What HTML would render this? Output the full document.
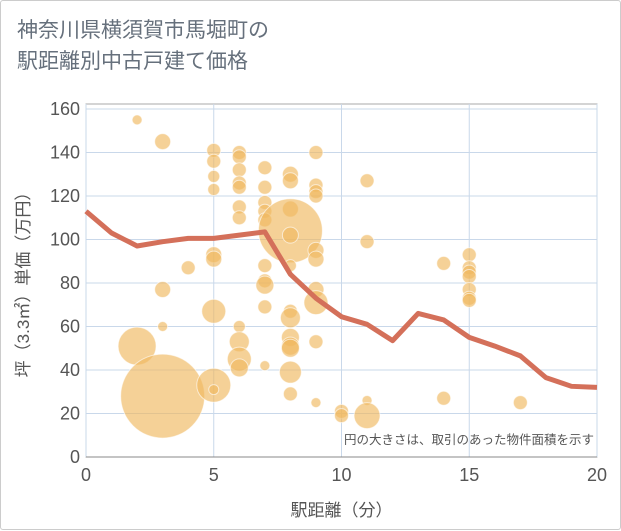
<!DOCTYPE html>
<html><head><meta charset="utf-8"><style>
body{margin:0;background:#fff;font-family:"Liberation Sans","Noto Sans CJK JP",sans-serif;}
#wrap{position:relative;width:619px;height:528px;border:1px solid #ccc;border-radius:3px;background:#fff;}
#title{position:absolute;left:16px;top:14px;font-size:21px;line-height:31px;color:#66707c;}
svg{position:absolute;left:0;top:0;}
</style></head><body>
<div id="wrap">
<div id="title">神奈川県横須賀市馬堀町の<br>駅距離別中古戸建て価格</div>
<svg id="chart" width="621" height="530"></svg>
</div>
<script>
const xTicks=[0,5,10,15,20];
const yTicks=[0,20,40,60,80,100,120,140,160];
const bubX=[2,3,5,5,5,5,6,6,6,6,6,6,6,7,7,7,7,7,8,8,8,8,8,9,9,9,9,11,11,9,9,8,5,5,4,3,7,7,7,9,9,8,8,7,2,3,5,6,6,6,6,7,8,8,8,8,8,9,9,3,5,5,10,10,11,11,14,14,15,15,15,15,15,15,15,17];
const bubY=[155,145,141,136,129,123,140,138,132,126,124,115,110,133,124,117,113,109,130,127,114,104,102,140,125,122,120,127,99,95,91,88,93,91,87,77,88,81,79,77,71,67,64,69,51,60,67,60,53,45,41,42,55,51,50,39,29,53,25,28,33,31,21,19,26,19,89,27,93,87,85,83,77,73,72,25];
const bubSize=[5,8,7,7,6,6,7,7,7,7,7,7,7,7,7,7,7,7,8,8,8,32,8,7,7,7,7,7,7,8,8,6,8,8,7,8,7,7,9,8,12,7,10,7,19,5,12,6,10,12,9,5,9,9,9,11,7,7,5,42,17,5,7,7,5,13,7,7,7,7,7,7,7,7,7,7];
const lineX=[0,1,2,3,4,5,6,7,8,9,10,11,12,13,14,15,16,17,18,19,20];
const lineY=[113,103,97,99,100.5,100.5,102,103.5,84,73,64.5,61,53.5,66,63,55,51,46.5,36.5,32.5,32];
const L=85,R=596,T=103,B=456;
const sx=v=>L+v*(R-L)/20, sy=v=>B-v*(B-108)/160;
const svg=document.getElementById('chart');const NS='http://www.w3.org/2000/svg';
function mk(t,a){const e=document.createElementNS(NS,t);for(const k in a)e.setAttribute(k,a[k]);svg.appendChild(e);return e;}
let e=mk('rect',{x:L,y:T,width:R-L,height:B-T,fill:'#fff',stroke:'#aaa'});


yTicks.forEach(v=>{let g=mk('line',{x1:L,x2:R,y1:sy(v),y2:sy(v),stroke:'#c9d8ea','stroke-width':1});


let t=mk('text',{x:L-6,y:sy(v)+6,'text-anchor':'end','font-size':18,fill:'#555'});t.textContent=v;

});
xTicks.forEach(v=>{let g=mk('line',{x1:sx(v),x2:sx(v),y1:T,y2:B,stroke:'#c9d8ea','stroke-width':1});


let t=mk('text',{x:sx(v),y:B+24,'text-anchor':'middle','font-size':18,fill:'#555'});t.textContent=v;

});
mk('line',{x1:L,x2:R,y1:B,y2:B,stroke:'#888'});
bubX.forEach((v,i)=>{let c=mk('circle',{cx:sx(v),cy:sy(bubY[i]),r:bubSize[i],fill:'rgba(240,184,96,0.65)',stroke:'rgba(255,255,255,0.6)','stroke-width':1});

});
let p=mk('polyline',{points:lineX.map((v,i)=>sx(v)+','+sy(lineY[i])).join(' '),fill:'none',stroke:'#d4705a','stroke-width':5,'stroke-linejoin':'round'});


let n=mk('text',{x:593,y:443,'text-anchor':'end','font-size':12.5,fill:'#555'});n.textContent='円の大きさは、取引のあった物件面積を示す';


let xt=mk('text',{x:(L+R)/2,y:515,'text-anchor':'middle','font-size':17,fill:'#555'});xt.textContent='駅距離（分）';


let yt=mk('text',{x:0,y:0,'text-anchor':'middle','font-size':17,fill:'#555',transform:'translate(28,'+((T+B)/2)+') rotate(-90)'});yt.textContent='坪（3.3㎡）単価（万円）';


</script>
</body></html>
